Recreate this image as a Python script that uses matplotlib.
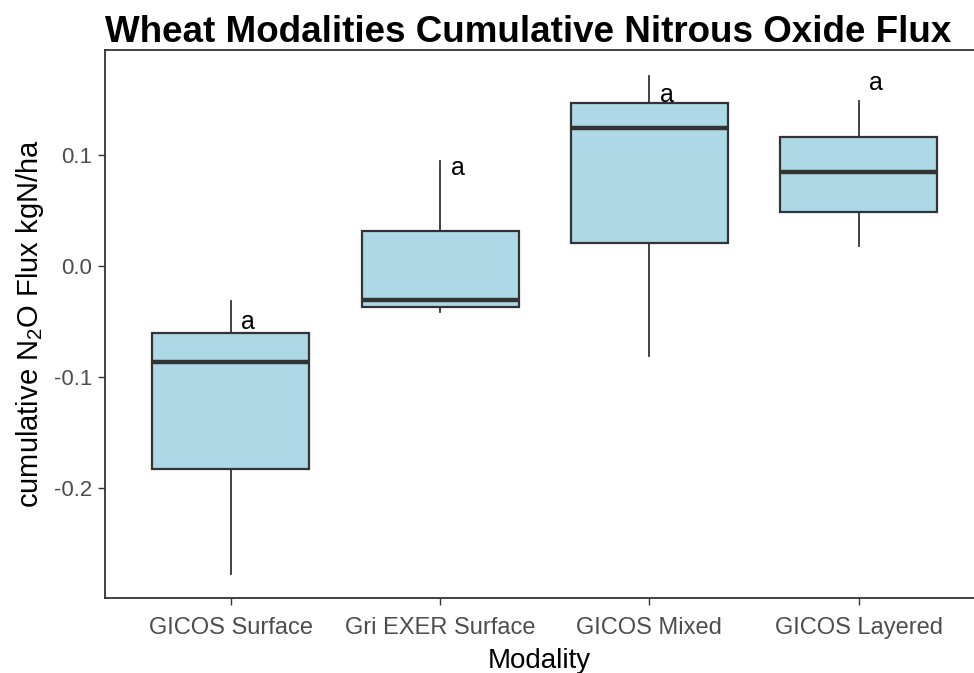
import matplotlib
matplotlib.use("Agg")
import matplotlib.pyplot as plt

# data (kgN/ha)
modalities = ["GICOS Surface", "Gri EXER Surface", "GICOS Mixed", "GICOS Layered"]
whisker_lo = [-0.277, -0.0411, -0.0809, 0.0183]
q1 = [-0.1828, -0.0366, 0.0204, 0.0488]
median = [-0.0863, -0.0308, 0.124, 0.0845]
q3 = [-0.060, 0.0317, 0.1469, 0.1157]
whisker_hi = [-0.0312, 0.0947, 0.1709, 0.1487]
letters = ["a", "a", "a", "a"]
letter_y = [-0.050, 0.0878, 0.1538, 0.1643]
yticks = [-0.2, -0.1, 0.0, 0.1]

FILL = "#ADD8E6"
EDGE = "#333333"
TICK_GREY = "#4D4D4D"

plt.rcParams["font.family"] = ["Liberation Sans", "DejaVu Sans"]
plt.rcParams["mathtext.fontset"] = "custom"
plt.rcParams["mathtext.rm"] = "Liberation Sans"
plt.rcParams["mathtext.it"] = "Liberation Sans"
plt.rcParams["mathtext.bf"] = "Liberation Sans:bold"

fig = plt.figure(figsize=(9.74, 6.73), dpi=100)
ax = fig.add_axes([0.1078, 0.1114, 0.8922, 0.8143])

stats = []
for i, name in enumerate(modalities):
    stats.append(dict(label=name, whislo=whisker_lo[i], q1=q1[i], med=median[i],
                      q3=q3[i], whishi=whisker_hi[i], fliers=[]))

positions = list(range(1, len(modalities) + 1))
ax.bxp(stats, positions=positions, widths=0.75, patch_artist=True,
       showcaps=False, showfliers=False,
       boxprops=dict(facecolor=FILL, edgecolor=EDGE, linewidth=1.6),
       medianprops=dict(color=EDGE, linewidth=3.2, solid_capstyle="butt"),
       whiskerprops=dict(color=EDGE, linewidth=1.3))

# significance letters, just right of each whisker
for x, txt, y in zip(positions, letters, letter_y):
    ax.text(x + 0.05, y, txt, ha="left", va="center", fontsize=18, color="black")

ax.set_xlim(0.4, 4.55)
ax.set_ylim(-0.2986, 0.1942)
ax.set_yticks(yticks)
ax.set_yticklabels([f"{v:.1f}" for v in yticks])
ax.set_xticks(positions)
ax.set_xticklabels(modalities)
ax.tick_params(axis="both", colors=EDGE, labelcolor=TICK_GREY, length=5, width=1)
ax.tick_params(axis="x", pad=9, labelsize=17)
ax.tick_params(axis="y", pad=4, labelsize=16)

ax.spines["right"].set_visible(False)
for s in ("left", "bottom", "top"):
    ax.spines[s].set_color(EDGE)
    ax.spines[s].set_linewidth(1.3)

ax.set_xlabel("Modality", fontsize=20, labelpad=6)
ax.set_ylabel("cumulative N$_2$O Flux kgN/ha", fontsize=21, labelpad=6)
ax.set_title("Wheat Modalities Cumulative Nitrous Oxide Flux", fontsize=26.5,
             fontweight="bold", loc="left", pad=5)

fig.savefig("out.png", dpi=100, facecolor="white")
